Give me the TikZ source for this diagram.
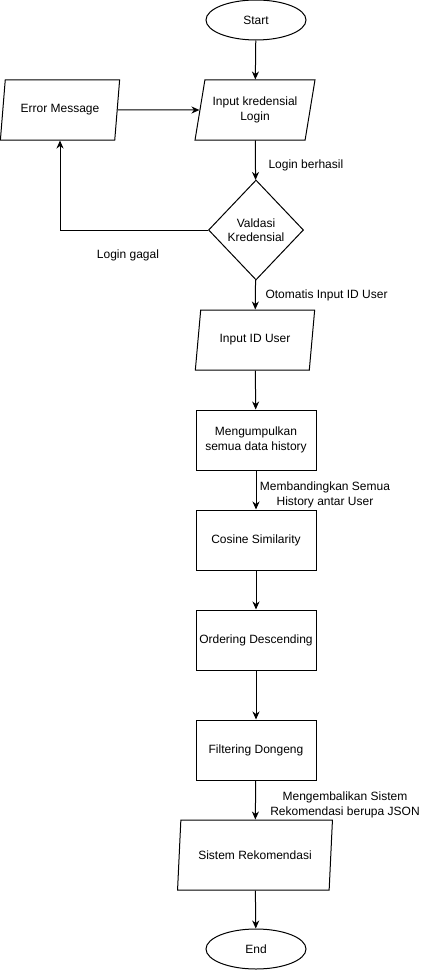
\documentclass[tikz,border=0pt]{standalone}
\usepackage{fontspec}
\setmainfont{Liberation Sans}
\usetikzlibrary{shapes.geometric}
\usetikzlibrary{arrows.meta}

\begin{document}
\begin{tikzpicture}[x=1pt,y=-1pt,
    terminal/.style={draw,ellipse,minimum width=100pt,minimum height=40pt,inner sep=0pt},
    io/.style={draw,trapezium,trapezium left angle=72,trapezium right angle=108,
        trapezium stretches=true,minimum width=120pt,minimum height=60pt,inner sep=0pt,align=center},
    process/.style={draw,rectangle,minimum width=120pt,minimum height=60pt,inner sep=0pt,align=center},
    decision/.style={draw,diamond,minimum width=95pt,minimum height=100pt,inner sep=0pt,align=center},
    flow/.style={-{Stealth[length=8pt,width=7pt,inset=2.5pt]}},
    tag/.style={align=center,inner sep=0pt}]
    \useasboundingbox (0,0) rectangle (431,971);
    \begin{scope}[line width=1pt,font=\fontsize{12}{14.5}\selectfont]
    % Shapes:
    \node [terminal] (start) at (256,20)  {Start};
    \node [io] (kred)   at (255,110) {Input kredensial\\Login};
    \node [io] (err)    at (60,110)  {Error Message};
    \node [decision] (valid) at (256,230) {Valdasi\\Kredensial};
    \node [io] (inid)   at (255,340) {Input ID User};
    \node [process] (kumpul) at (256,440) {Mengumpulkan\\semua data history};
    \node [process] (cosine) at (256,540) {Cosine Similarity};
    \node [process] (order)  at (256,640) {Ordering Descending};
    \node [process] (filter) at (256,750) {Filtering Dongeng};
    \node [io,minimum width=155pt,minimum height=70pt,trapezium left angle=74,trapezium right angle=106]
        (sistem) at (255,855) {Sistem Rekomendasi};
    \node [terminal] (end) at (256,949) {End};

    % Connectors:
    \draw [flow] (start) -- (kred);
    \draw [flow] (kred) -- (valid);
    \draw [flow] (err) -- (kred);
    \draw [flow] (valid.west) -| (err.south);
    \draw [flow] (valid) -- (inid);
    \draw [flow] (inid) -- (kumpul);
    \draw [flow] (kumpul) -- (cosine);
    \draw [flow] (cosine) -- (order);
    \draw [flow] (order) -- (filter);
    \draw [flow] (filter) -- (sistem);
    \draw [flow] (sistem) -- (end);

    % Labels:
    \node [tag,anchor=west] (berhasil) at (268,165) {Login berhasil};
    \node [tag] (gagal) at (128,255) {Login gagal};
    \node [tag,anchor=west] (otomatis) at (265,295) {Otomatis Input ID User};
    \node [tag] (banding) at (325,495) {Membandingkan Semua\\History antar User};
    \node [tag] (kembali) at (345,805) {Mengembalikan Sistem\\Rekomendasi berupa JSON};
    \end{scope}
\end{tikzpicture}
\end{document}
